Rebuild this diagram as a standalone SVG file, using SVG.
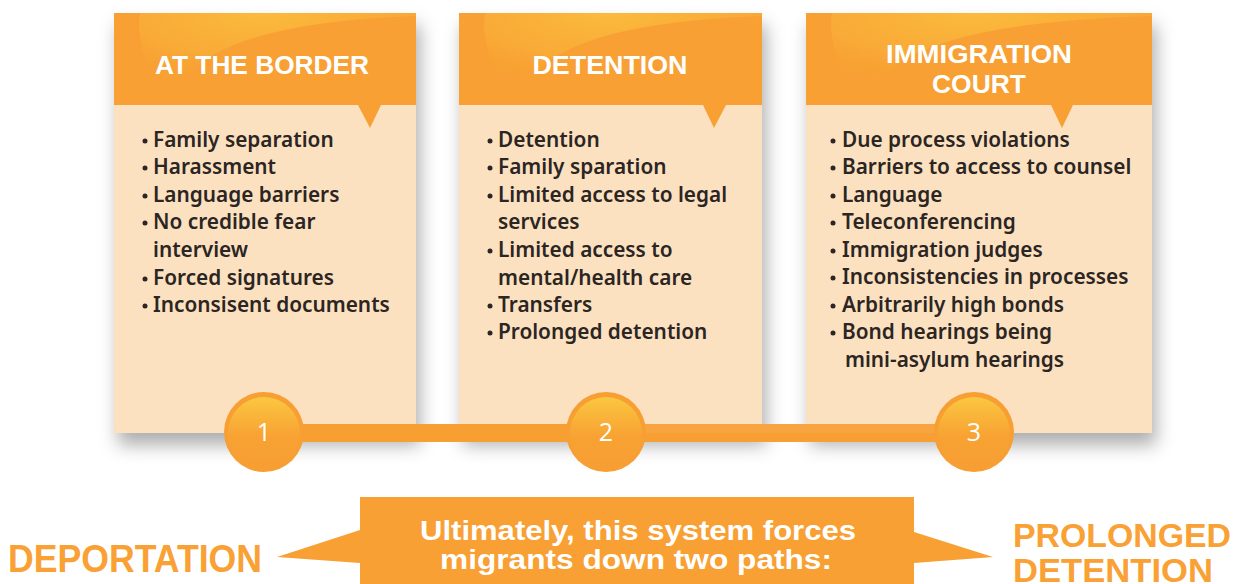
<svg xmlns="http://www.w3.org/2000/svg" width="1245" height="584" viewBox="0 0 1245 584">
<defs>
<filter id="shadow" x="-10%" y="-10%" width="130%" height="130%">
<feDropShadow dx="4" dy="12" stdDeviation="9" flood-color="#000" flood-opacity="0.32"/>
</filter>
<radialGradient id="glow" cx="0.45" cy="0" r="0.8">
<stop offset="0" stop-color="#FBC03F" stop-opacity="1"/>
<stop offset="0.6" stop-color="#FAB23A" stop-opacity="0.7"/>
<stop offset="1" stop-color="#F8A033" stop-opacity="0"/>
</radialGradient>
<linearGradient id="ball" x1="0" y1="0" x2="0" y2="1">
<stop offset="0" stop-color="#FAC740"/>
<stop offset="0.55" stop-color="#F8A233"/>
<stop offset="1" stop-color="#F79E33"/>
</linearGradient>
</defs>
<style>
.hdr{fill:#F8A033}
.body{fill:#FCE1C0}
.ttl{font-family:"Liberation Sans",Arial,sans-serif;font-weight:700;font-size:25px;fill:#fff;text-anchor:middle}
.item{font-family:"Noto Sans","Liberation Sans",sans-serif;font-weight:600;font-size:20.8px;fill:#2B2523}
.dot{fill:#2B2523}
.num{font-family:"Open Sans","Liberation Sans",sans-serif;font-weight:400;font-size:25px;fill:#fff;text-anchor:middle}
.big{font-family:"Liberation Sans",Arial,sans-serif;font-weight:700;fill:#F9A134}
.msg{font-family:"Liberation Sans",Arial,sans-serif;font-weight:700;font-size:27px;fill:#fff;text-anchor:middle}
</style>

<g id="card1">
<g filter="url(#shadow)">
<rect x="114" y="13" width="302" height="420" class="body"/>
</g>
<rect x="114" y="13" width="302" height="92" class="hdr"/>
<path d="M172,105 C185,55 250,22 416,16 L416,13 L140,13 C135,40 150,80 172,105 Z" fill="url(#glow)" opacity="0.85"/>
<polygon points="358,105 381,105 370,128" class="hdr"/>
<text x="262" y="74" class="ttl" textLength="214" lengthAdjust="spacingAndGlyphs">AT THE BORDER</text>
<g class="dot">
<circle cx="145" cy="141" r="2.5"/><circle cx="145" cy="168" r="2.5"/><circle cx="145" cy="196" r="2.5"/><circle cx="145" cy="223" r="2.5"/><circle cx="145" cy="279" r="2.5"/><circle cx="145" cy="306" r="2.5"/>
</g>
<g class="item">
<text x="153" y="147">Family separation</text>
<text x="153" y="174">Harassment</text>
<text x="153" y="202">Language barriers</text>
<text x="153" y="229">No credible fear</text>
<text x="153" y="257">interview</text>
<text x="153" y="285">Forced signatures</text>
<text x="153" y="312">Inconsisent documents</text>
</g>
</g>

<g id="card2">
<g filter="url(#shadow)">
<rect x="459" y="13" width="303" height="420" class="body"/>
</g>
<rect x="459" y="13" width="303" height="92" class="hdr"/>
<path d="M517,105 C530,55 595,22 762,16 L762,13 L485,13 C480,40 495,80 517,105 Z" fill="url(#glow)" opacity="0.85"/>
<polygon points="703,105 726,105 714,128" class="hdr"/>
<text x="610" y="74" class="ttl" textLength="155" lengthAdjust="spacingAndGlyphs">DETENTION</text>
<g class="dot">
<circle cx="490" cy="141" r="2.5"/><circle cx="490" cy="168" r="2.5"/><circle cx="490" cy="196" r="2.5"/><circle cx="490" cy="251" r="2.5"/><circle cx="490" cy="306" r="2.5"/><circle cx="490" cy="333" r="2.5"/>
</g>
<g class="item">
<text x="498" y="147">Detention</text>
<text x="498" y="174">Family sparation</text>
<text x="498" y="202">Limited access to legal</text>
<text x="498" y="229">services</text>
<text x="498" y="257">Limited access to</text>
<text x="498" y="285">mental/health care</text>
<text x="498" y="312">Transfers</text>
<text x="498" y="339">Prolonged detention</text>
</g>
</g>

<g id="card3">
<g filter="url(#shadow)">
<rect x="806" y="13" width="346" height="420" class="body"/>
</g>
<rect x="806" y="13" width="346" height="92" class="hdr"/>
<path d="M866,105 C880,55 955,22 1152,16 L1152,13 L832,13 C827,40 842,80 866,105 Z" fill="url(#glow)" opacity="0.85"/>
<polygon points="1051,105 1073,105 1062,128" class="hdr"/>
<text x="979" y="63" class="ttl" textLength="186" lengthAdjust="spacingAndGlyphs">IMMIGRATION</text>
<text x="979" y="93" class="ttl" textLength="94" lengthAdjust="spacingAndGlyphs">COURT</text>
<g class="dot">
<circle cx="833" cy="141" r="2.5"/><circle cx="833" cy="168" r="2.5"/><circle cx="833" cy="196" r="2.5"/><circle cx="833" cy="223" r="2.5"/><circle cx="833" cy="251" r="2.5"/><circle cx="833" cy="278" r="2.5"/><circle cx="833" cy="306" r="2.5"/><circle cx="833" cy="333" r="2.5"/>
</g>
<g class="item">
<text x="842" y="147">Due process violations</text>
<text x="842" y="174">Barriers to access to counsel</text>
<text x="842" y="202">Language</text>
<text x="842" y="229">Teleconferencing</text>
<text x="842" y="257">Immigration judges</text>
<text x="842" y="284">Inconsistencies in processes</text>
<text x="842" y="312">Arbitrarily high bonds</text>
<text x="842" y="339">Bond hearings being</text>
<text x="845" y="367">mini-asylum hearings</text>
</g>
</g>

<g id="connectors">
<rect x="264" y="424" width="710" height="18" fill="#F79F33"/>
<rect x="640" y="424" width="300" height="9" fill="#F9A94A" opacity="0.6"/>
</g>

<g id="step1">
<circle cx="264" cy="432" r="40" fill="#F79F33"/>
<circle cx="264" cy="433" r="36" fill="url(#ball)"/>
<text x="264" y="441" class="num">1</text>
</g>
<g id="step2">
<circle cx="606" cy="432" r="40" fill="#F79F33"/>
<circle cx="606" cy="433" r="36" fill="url(#ball)"/>
<text x="606" y="441" class="num">2</text>
</g>
<g id="step3">
<circle cx="974" cy="432" r="40" fill="#F79F33"/>
<circle cx="974" cy="433" r="36" fill="url(#ball)"/>
<text x="974" y="441" class="num">3</text>
</g>

<g id="banner">
<path d="M360,497 L914,497 L914,532 L993,557 L914,563 L914,584 L360,584 L360,563 L277,557 L360,530 Z" fill="#F8A033"/>
<text x="638" y="540" class="msg" textLength="436" lengthAdjust="spacingAndGlyphs">Ultimately, this system forces</text>
<text x="636" y="569" class="msg" textLength="392" lengthAdjust="spacingAndGlyphs">migrants down two paths:</text>
</g>

<g id="outcome-deportation">
<text x="8" y="572" class="big" font-size="38" textLength="254" lengthAdjust="spacingAndGlyphs">DEPORTATION</text>
</g>
<g id="outcome-detention">
<text x="1013" y="547" class="big" font-size="34" textLength="218" lengthAdjust="spacingAndGlyphs">PROLONGED</text>
<text x="1013" y="582" class="big" font-size="34" textLength="200" lengthAdjust="spacingAndGlyphs">DETENTION</text>
</g>
</svg>
